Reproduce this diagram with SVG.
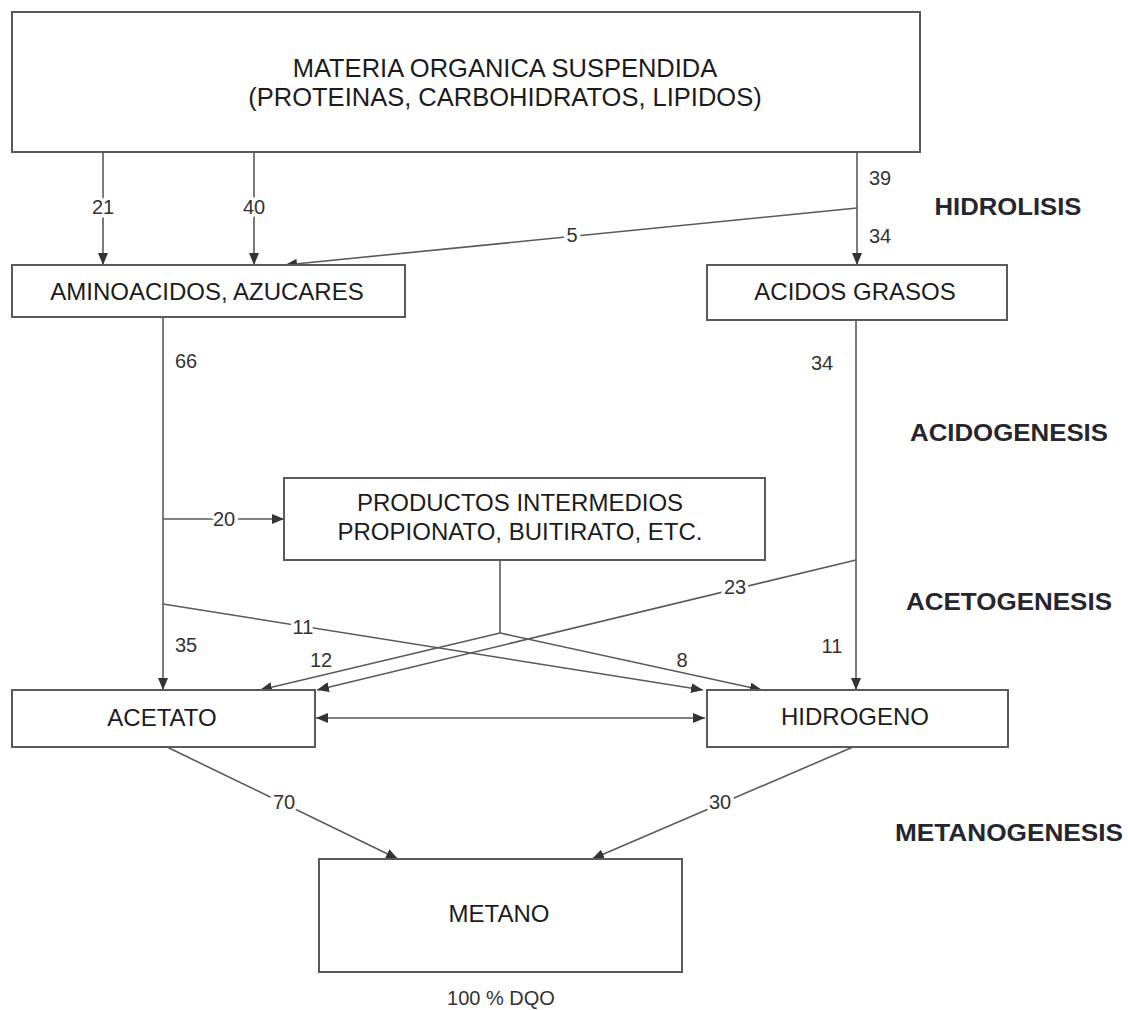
<svg xmlns="http://www.w3.org/2000/svg" width="1128" height="1010" viewBox="0 0 1128 1010">
<style>
.box{fill:#fff;stroke:#5a5a5a;stroke-width:2}
.bt{font-family:"Liberation Sans",Arial,sans-serif;font-size:24px;fill:#1c1c1c;text-anchor:middle}
.tt{font-family:"Liberation Sans",Arial,sans-serif;font-size:25.5px;fill:#1c1c1c;text-anchor:middle}
.st{font-family:"Liberation Sans",Arial,sans-serif;font-size:24px;font-weight:bold;fill:#26262e;text-anchor:middle}
.c{fill:none;stroke:#5a5a5a;stroke-width:1.6}
.ca{fill:none;stroke:#5a5a5a;stroke-width:1.6;marker-end:url(#ah)}
.lb{font-family:"Liberation Sans",Arial,sans-serif;font-size:20px;fill:#333;text-anchor:middle}
.li{font-family:"Liberation Sans",Arial,sans-serif;font-size:20px;fill:#333;text-anchor:middle;stroke:#fff;stroke-width:7;paint-order:stroke;stroke-linejoin:round}
</style>
<defs>
<marker id="ah" markerWidth="12" markerHeight="10" refX="12" refY="5" orient="auto" markerUnits="userSpaceOnUse">
<path d="M0,0 L12,5 L0,10 Z" fill="#333"/>
</marker>
<marker id="ahs" markerWidth="12" markerHeight="10" refX="0" refY="5" orient="auto" markerUnits="userSpaceOnUse">
<path d="M12,0 L0,5 L12,10 Z" fill="#333"/>
</marker>
</defs>
<rect width="1128" height="1010" fill="#fff"/>

<g id="connectors">
<line class="ca" x1="103" y1="152" x2="103" y2="265"/>
<line class="ca" x1="254" y1="152" x2="254" y2="265"/>
<line class="ca" x1="857" y1="152" x2="857" y2="265"/>
<line class="ca" x1="857" y1="208" x2="285" y2="265"/>
<line class="ca" x1="163" y1="317" x2="163" y2="690"/>
<line class="ca" x1="163" y1="519" x2="284" y2="519"/>
<line class="ca" x1="856" y1="320" x2="856" y2="690"/>
<line class="c" x1="500" y1="560" x2="500" y2="633"/>
<line class="ca" x1="500" y1="633" x2="260" y2="690"/>
<line class="ca" x1="500" y1="633" x2="762" y2="690"/>
<line class="ca" x1="856" y1="560" x2="317" y2="690"/>
<line class="ca" x1="163" y1="604" x2="703" y2="690"/>
<line class="c" x1="316" y1="718" x2="705" y2="718" marker-start="url(#ahs)" marker-end="url(#ah)"/>
<line class="ca" x1="167" y1="747" x2="398" y2="859"/>
<line class="ca" x1="853" y1="747" x2="592" y2="859"/>

<text class="li" x="103" y="214">21</text>
<text class="li" x="254" y="214">40</text>
<text class="lb" x="880" y="185">39</text>
<text class="lb" x="880" y="243">34</text>
<text class="li" x="572" y="242">5</text>
<text class="lb" x="186" y="368">66</text>
<text class="lb" x="822" y="370">34</text>
<text class="li" x="224" y="526">20</text>
<text class="li" x="735" y="594">23</text>
<text class="li" x="303" y="634">11</text>
<text class="lb" x="186" y="652">35</text>
<text class="lb" x="321" y="667">12</text>
<text class="lb" x="682" y="667">8</text>
<text class="lb" x="832" y="653">11</text>
<text class="li" x="284" y="809">70</text>
<text class="li" x="720" y="809">30</text>
</g>

<g id="n-materia">
<rect class="box" x="12" y="12" width="908" height="140"/>
<text class="tt" x="505" y="77">MATERIA ORGANICA SUSPENDIDA</text>
<text class="tt" x="505" y="106">(PROTEINAS, CARBOHIDRATOS, LIPIDOS)</text>
</g>
<g id="n-amino">
<rect class="box" x="12" y="265" width="393" height="52"/>
<text class="bt" x="207" y="300">AMINOACIDOS, AZUCARES</text>
</g>
<g id="n-acidos">
<rect class="box" x="707" y="265" width="300" height="55"/>
<text class="bt" x="855" y="300">ACIDOS GRASOS</text>
</g>
<g id="n-productos">
<rect class="box" x="284" y="478" width="481" height="82"/>
<text class="bt" x="520" y="511">PRODUCTOS INTERMEDIOS</text>
<text class="bt" x="520" y="540">PROPIONATO, BUITIRATO, ETC.</text>
</g>
<g id="n-acetato">
<rect class="box" x="12" y="690" width="303" height="57"/>
<text class="bt" x="162" y="726">ACETATO</text>
</g>
<g id="n-hidrogeno">
<rect class="box" x="707" y="690" width="301" height="57"/>
<text class="bt" x="855" y="725">HIDROGENO</text>
</g>
<g id="n-metano">
<rect class="box" x="319" y="859" width="363" height="113"/>
<text class="bt" x="499" y="922">METANO</text>
</g>
<text class="lb" x="501" y="1005">100 % DQO</text>

<g id="stages">
<text class="st" x="1008" y="215" textLength="147" lengthAdjust="spacingAndGlyphs">HIDROLISIS</text>
<text class="st" x="1009" y="441" textLength="198" lengthAdjust="spacingAndGlyphs">ACIDOGENESIS</text>
<text class="st" x="1009" y="610" textLength="206" lengthAdjust="spacingAndGlyphs">ACETOGENESIS</text>
<text class="st" x="1009" y="841" textLength="228" lengthAdjust="spacingAndGlyphs">METANOGENESIS</text>
</g>
</svg>
